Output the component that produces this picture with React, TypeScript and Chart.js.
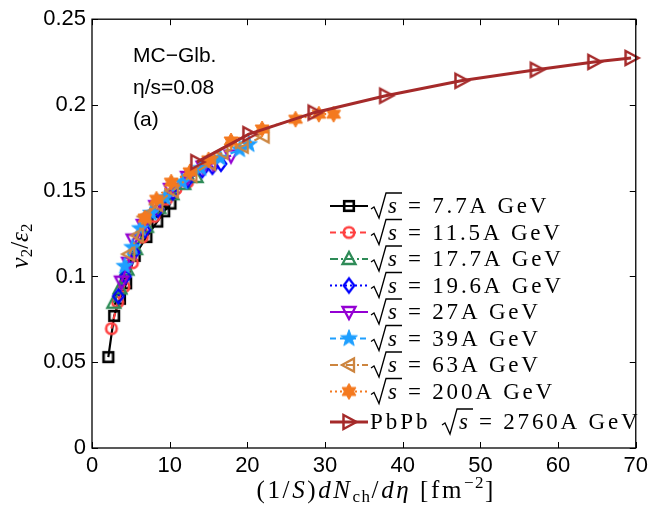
import React, { useEffect, useRef } from "react";
import { Chart, registerables } from "chart.js";
Chart.register(...registerables);

// ---------------- data ----------------
const energyLabels = ["7.7A GeV", "11.5A GeV", "17.7A GeV", "19.6A GeV", "27A GeV", "39A GeV", "63A GeV", "200A GeV", "2760A GeV"];

const x7_7 = [2.1, 2.85, 3.6, 4.4, 5.5, 7.0, 8.4, 9.3, 10.1];
const y7_7 = [0.053, 0.077, 0.087, 0.096, 0.112, 0.123, 0.132, 0.138, 0.1425];

const x11_5 = [2.5, 3.3, 4.1, 5.2, 6.5, 8.0, 9.6, 10.8, 12.3];
const y11_5 = [0.0696, 0.085, 0.094, 0.108, 0.123, 0.135, 0.145, 0.151, 0.155];

const x17_7 = [2.8, 3.6, 4.5, 5.6, 7.0, 8.6, 10.3, 11.8, 13.4];
const y17_7 = [0.0847, 0.093, 0.104, 0.116, 0.129, 0.14, 0.148, 0.154, 0.158];

const x19_6 = [3.4, 4.3, 5.4, 6.8, 8.5, 10.4, 12.3, 14.2, 15.5, 16.6];
const y19_6 = [0.0885, 0.1, 0.114, 0.127, 0.139, 0.149, 0.156, 0.162, 0.164, 0.1657];

const x27 = [3.8, 4.7, 5.3, 6.6, 8.2, 10.1, 12.3, 14.3, 15.6, 17.9];
const y27 = [0.097, 0.108, 0.1215, 0.13, 0.141, 0.151, 0.158, 0.164, 0.166, 0.1705];

const x39 = [4.2, 5.2, 6.2, 7.6, 9.4, 11.6, 14.0, 16.5, 19.0, 20.2];
const y39 = [0.106, 0.117, 0.128, 0.137, 0.146, 0.155, 0.163, 0.169, 0.174, 0.177];

const x63 = [4.8, 5.9, 6.8, 8.4, 10.4, 12.8, 15.2, 16.8, 19.4, 22.1];
const y63 = [0.113, 0.124, 0.135, 0.142, 0.15, 0.159, 0.166, 0.1725, 0.176, 0.182];

const x200 = [6.8, 8.3, 10.2, 12.6, 15.0, 17.9, 21.9, 26.2, 29.2, 31.1];
const y200 = [0.134, 0.145, 0.155, 0.161, 0.168, 0.179, 0.186, 0.1917, 0.1946, 0.1946];

const xPbPb = [13.5, 20.2, 28.6, 37.8, 47.5, 57.2, 64.6, 69.4];
const yPbPb = [0.1667, 0.183, 0.1955, 0.2054, 0.2141, 0.2205, 0.2251, 0.2274];

const xSeries = [x7_7, x11_5, x17_7, x19_6, x27, x39, x63, x200, xPbPb];
const ySeries = [y7_7, y11_5, y17_7, y19_6, y27, y39, y63, y200, yPbPb];

const xTicks = [0, 10, 20, 30, 40, 50, 60, 70];
const yTicks = [0, 0.05, 0.1, 0.15, 0.2, 0.25];
const yTickLabels = ["0", "0.05", "0.1", "0.15", "0.2", "0.25"];

const annotations = ["MC\u2212Glb.", "\u03B7/s=0.08", "(a)"];

// ---------------- styles ----------------
const colors = ["#000000", "#ff4040", "#2e8b57", "#0000ff", "#9400d3", "#1e9fff", "#cd853f", "#f4791f", "#a52a2a"];
const shapes = ["square", "circle", "triUp", "diamond", "triDown", "pentagram", "triLeft", "hexagram", "triRight"];
const dashes = [[], [6, 4], [8, 3, 2, 3], [2, 3], [], [6, 4], [8, 3, 2, 3], [2, 3], []];
const lineWidths = [2.2, 2.2, 2.2, 2.2, 2.2, 2.2, 2.2, 2.2, 3];

function makeMarker(shape: string, color: string): HTMLCanvasElement {
  const S = 24;
  const c = document.createElement("canvas");
  c.width = S;
  c.height = S;
  const g = c.getContext("2d")!;
  g.translate(S / 2, S / 2);
  g.strokeStyle = color;
  g.fillStyle = color;
  g.lineWidth = 2.3;
  g.lineJoin = "miter";
  const poly = (pts: number[][]) => {
    g.beginPath();
    pts.forEach(([a, b], i) => (i ? g.lineTo(a, b) : g.moveTo(a, b)));
    g.closePath();
  };
  const star = (n: number, ro: number, ri: number) => {
    const pts: number[][] = [];
    for (let i = 0; i < 2 * n; i++) {
      const r = i % 2 === 0 ? ro : ri;
      const a = -Math.PI / 2 + (i * Math.PI) / n;
      pts.push([r * Math.cos(a), r * Math.sin(a)]);
    }
    poly(pts);
  };
  switch (shape) {
    case "square":
      g.lineWidth = 2.6;
      g.strokeRect(-4.8, -4.8, 9.6, 9.6);
      break;
    case "circle":
      g.lineWidth = 2.6;
      g.beginPath();
      g.arc(0, 0, 5.3, 0, Math.PI * 2);
      g.stroke();
      break;
    case "triUp":
      poly([[0, -7], [6.5, 5], [-6.5, 5]]);
      g.stroke();
      break;
    case "triDown":
      poly([[0, 7], [6.5, -5], [-6.5, -5]]);
      g.stroke();
      break;
    case "triLeft":
      poly([[-7, 0], [5, 6.5], [5, -6.5]]);
      g.stroke();
      break;
    case "triRight":
      g.lineWidth = 2.5;
      poly([[7.5, 0], [-5.5, 7], [-5.5, -7]]);
      g.stroke();
      break;
    case "diamond":
      poly([[0, -7], [5.3, 0], [0, 7], [-5.3, 0]]);
      g.stroke();
      break;
    case "pentagram":
      star(5, 8.8, 3.6);
      g.fill();
      g.lineWidth = 1;
      g.stroke();
      break;
    case "hexagram":
      star(6, 8, 4.6);
      g.fill();
      g.lineWidth = 1;
      g.stroke();
      break;
  }
  return c;
}

type Run = { t: string; f: string; dy?: number; ls?: number };

function drawRuns(ctx: CanvasRenderingContext2D, runs: Run[], x: number, y: number, align: "left" | "center") {
  let total = 0;
  const widths: number[] = [];
  for (const r of runs) {
    ctx.font = r.f;
    (ctx as any).letterSpacing = (r.ls ?? 0) + "px";
    const w = ctx.measureText(r.t).width;
    widths.push(w);
    total += w;
  }
  let cx = align === "center" ? x - total / 2 : x;
  runs.forEach((r, i) => {
    ctx.font = r.f;
    (ctx as any).letterSpacing = (r.ls ?? 0) + "px";
    ctx.fillText(r.t, cx, y + (r.dy ?? 0));
    cx += widths[i];
  });
  (ctx as any).letterSpacing = "0px";
  return cx;
}

const SERIF = "'Liberation Serif', 'Times New Roman', serif";
const SANS = "'Liberation Sans', Arial, sans-serif";

export default function App() {
  const ref = useRef<HTMLCanvasElement | null>(null);

  useEffect(() => {
    document.body.style.margin = "0";
    document.body.style.overflow = "hidden";
    const markers = shapes.map((s, i) => makeMarker(s, colors[i]));

    const drawSqrtS = (ctx: CanvasRenderingContext2D, x: number, c: number) => {
      ctx.save();
      ctx.strokeStyle = "#000";
      ctx.lineWidth = 1.3;
      ctx.beginPath();
      ctx.moveTo(x, c + 3);
      ctx.lineTo(x + 3, c + 1);
      ctx.lineTo(x + 8, c + 12);
      ctx.lineTo(x + 15, c - 13);
      ctx.lineTo(x + 31, c - 13);
      ctx.stroke();
      ctx.restore();
      ctx.font = `italic 23px ${SERIF}`;
      ctx.fillText("s", x + 17, c + 7);
      return x + 37;
    };

    const overlay = {
      id: "overlay",
      afterDraw(chart: any) {
        const ctx: CanvasRenderingContext2D = chart.ctx;
        const { left, right, top, bottom } = chart.chartArea;
        const xs = chart.scales.x;
        const ys = chart.scales.y;
        ctx.save();
        // frame
        ctx.strokeStyle = "#000";
        ctx.lineWidth = 1.3;
        ctx.strokeRect(left, top, right - left, bottom - top);
        ctx.lineWidth = 1;
        ctx.beginPath();
        for (const v of xTicks) {
          const px = Math.round(xs.getPixelForValue(v)) + 0.5;
          ctx.moveTo(px, bottom);
          ctx.lineTo(px, bottom - 6);
          ctx.moveTo(px, top);
          ctx.lineTo(px, top + 6);
        }
        for (const v of yTicks) {
          const py = Math.round(ys.getPixelForValue(v)) + 0.5;
          ctx.moveTo(left, py);
          ctx.lineTo(left + 6, py);
          ctx.moveTo(right, py);
          ctx.lineTo(right - 6, py);
        }
        ctx.stroke();

        // annotations
        ctx.fillStyle = "#000";
        ctx.textAlign = "left";
        ctx.textBaseline = "alphabetic";
        ctx.font = `21px ${SANS}`;
        annotations.forEach((t, i) => ctx.fillText(t, 133, 62 + i * 32));

        // legend
        const legStart = 206;
        const legStep = 26.5;
        energyLabels.forEach((lab, i) => {
          const c = legStart + i * legStep + (i === energyLabels.length - 1 ? 4 : 0);
          ctx.save();
          ctx.strokeStyle = colors[i];
          ctx.lineWidth = lineWidths[i];
          ctx.setLineDash(dashes[i]);
          ctx.beginPath();
          ctx.moveTo(330, c);
          ctx.lineTo(368, c);
          ctx.stroke();
          ctx.restore();
          const m = markers[i];
          ctx.drawImage(m, 349 - m.width / 2, c - m.height / 2);
          ctx.fillStyle = "#000";
          let x = 371;
          if (i === energyLabels.length - 1) {
            ctx.font = `23px ${SERIF}`;
            (ctx as any).letterSpacing = "3px";
            ctx.fillText("PbPb", 370, c + 7);
            (ctx as any).letterSpacing = "0px";
            x = 442;
          }
          x = drawSqrtS(ctx, x, c);
          ctx.font = `23px ${SERIF}`;
          (ctx as any).letterSpacing = "2.8px";
          ctx.fillText("= " + lab, x, c + 7);
          (ctx as any).letterSpacing = "0px";
        });

        // x-axis title
        const R = (px: number) => `${px}px ${SERIF}`;
        const I = (px: number) => `italic ${px}px ${SERIF}`;
        drawRuns(
          ctx,
          [
            { t: "(1/", f: R(25), ls: 2.6 },
            { t: "S", f: I(25), ls: 2.6 },
            { t: ")", f: R(25), ls: 2.6 },
            { t: "dN", f: I(25), ls: 2.6 },
            { t: "ch", f: R(17), dy: 4, ls: 1.5 },
            { t: "/", f: R(25), ls: 2.6 },
            { t: "d\u03B7", f: I(25), ls: 2.6 },
            { t: " [fm", f: R(25), ls: 2.6 },
            { t: "\u22122", f: R(17), dy: -10, ls: 1.5 },
            { t: "]", f: R(25), ls: 0 },
          ],
          375,
          498,
          "center"
        );

        // y-axis title
        ctx.save();
        ctx.translate(22, 246);
        ctx.rotate(-Math.PI / 2);
        drawRuns(
          ctx,
          [
            { t: "v", f: I(25) },
            { t: "2", f: R(17), dy: 4 },
            { t: "/", f: R(25) },
            { t: "\u03B5", f: I(25) },
            { t: "2", f: R(17), dy: 4 },
          ],
          0,
          6,
          "center"
        );
        ctx.restore();
        ctx.restore();
      },
    };

    const datasets = xSeries.map((xs, i) => ({
      label: energyLabels[i],
      data: xs.map((x, j) => ({ x, y: ySeries[i][j] })),
      showLine: true,
      borderColor: colors[i],
      backgroundColor: colors[i],
      borderWidth: lineWidths[i],
      borderDash: dashes[i],
      pointStyle: markers[i] as any,
      pointRadius: 6,
      pointHoverRadius: 6,
      clip: false as any,
      order: xSeries.length - i,
      tension: 0,
    }));

    const chart = new Chart(ref.current!, {
      type: "scatter",
      data: { datasets },
      options: {
        animation: false,
        responsive: false,
        devicePixelRatio: 1,
        events: [],
        layout: { padding: { left: 0, top: 16, right: 14, bottom: 0 } },
        plugins: { legend: { display: false }, tooltip: { enabled: false } },
        scales: {
          x: {
            type: "linear",
            min: 0,
            max: 70,
            afterFit: (s: any) => {
              s.height = 57;
            },
            afterBuildTicks: (s: any) => {
              s.ticks = xTicks.map((v) => ({ value: v }));
            },
            ticks: { font: { family: SANS, size: 22 }, color: "#000", padding: 5, maxRotation: 0, autoSkip: false },
            grid: { display: false, drawTicks: false },
            border: { display: false },
          },
          y: {
            type: "linear",
            min: 0,
            max: 0.25,
            afterFit: (s: any) => {
              s.width = 92;
            },
            afterBuildTicks: (s: any) => {
              s.ticks = yTicks.map((v) => ({ value: v }));
            },
            ticks: {
              font: { family: SANS, size: 22 },
              color: "#000",
              padding: 6,
              autoSkip: false,
              callback: (v: any) => {
                const k = yTicks.findIndex((t) => Math.abs(t - v) < 1e-9);
                return k >= 0 ? yTickLabels[k] : "";
              },
            },
            grid: { display: false, drawTicks: false },
            border: { display: false },
          },
        },
      },
      plugins: [overlay],
    });
    return () => chart.destroy();
  }, []);

  return (
    <div style={{ width: 653, height: 505, position: "relative", background: "#fff" }}>
      <canvas ref={ref} width={653} height={505} style={{ display: "block" }} />
    </div>
  );
}
